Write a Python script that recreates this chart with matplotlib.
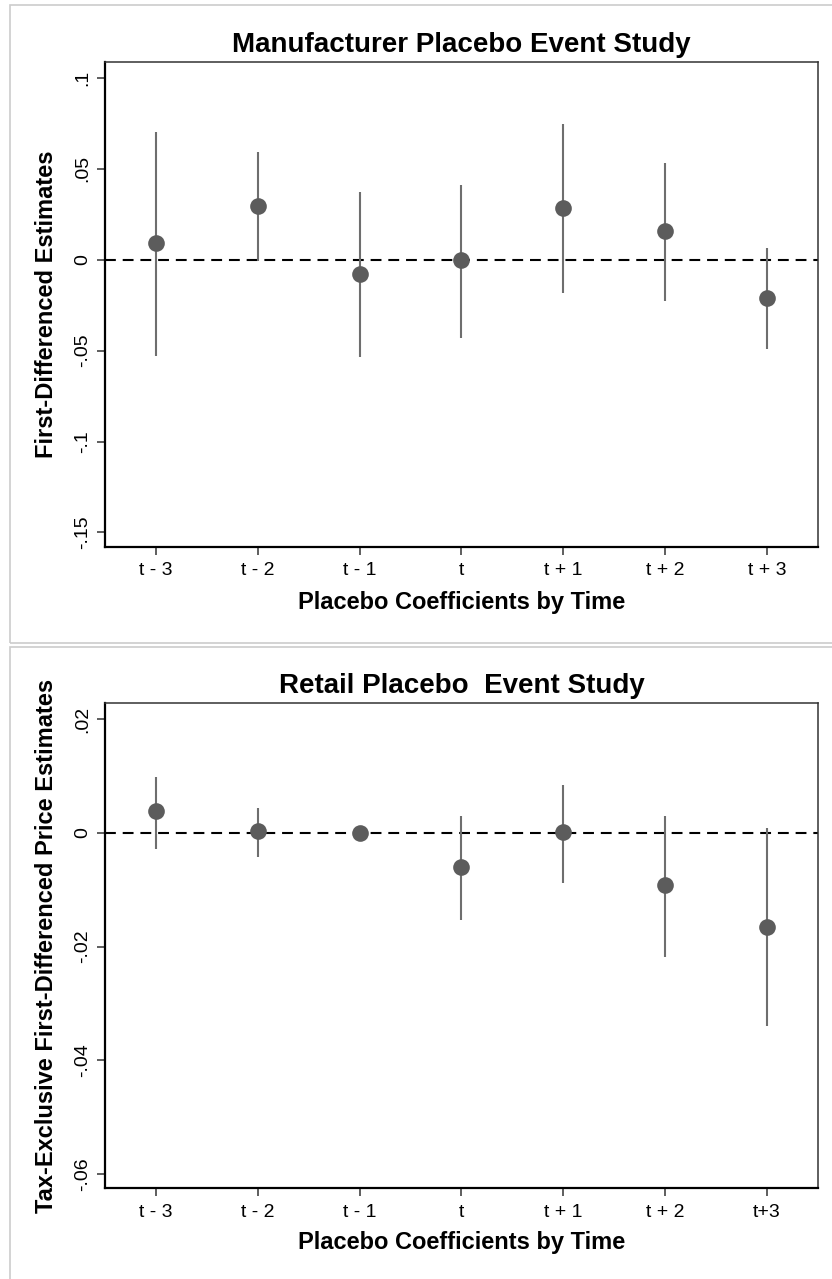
import matplotlib
matplotlib.use("Agg")
import matplotlib.pyplot as plt
from matplotlib.patches import Rectangle
from matplotlib import font_manager

# ---------------- data ----------------
periods = [1, 2, 3, 4, 5, 6, 7]
man_labels = ["t - 3", "t - 2", "t - 1", "t", "t + 1", "t + 2", "t + 3"]
ret_labels = ["t - 3", "t - 2", "t - 1", "t", "t + 1", "t + 2", "t+3"]

man_est = [0.0092, 0.0297, -0.0077, 0.0000, 0.0282, 0.0157, -0.0210]
man_lo = [-0.0527, -0.0009, -0.0534, -0.0432, -0.0185, -0.0229, -0.0489]
man_hi = [0.0705, 0.0595, 0.0370, 0.0410, 0.0745, 0.0531, 0.0062]

ret_est = [0.0039, 0.0003, 0.0000, -0.0060, 0.0001, -0.0092, -0.0165]
ret_lo = [-0.0028, -0.0043, 0.0000, -0.0153, -0.0089, -0.0219, -0.0340]
ret_hi = [0.0098, 0.0044, 0.0000, 0.0029, 0.0084, 0.0029, 0.0008]

man_yticks = [0.1, 0.05, 0, -0.05, -0.1, -0.15]
man_yticklabels = [".1", ".05", "0", "-.05", "-.1", "-.15"]
ret_yticks = [0.02, 0, -0.02, -0.04, -0.06]
ret_yticklabels = [".02", "0", "-.02", "-.04", "-.06"]

man_title = "Manufacturer Placebo Event Study"
ret_title = "Retail Placebo  Event Study"
man_ylabel = "First-Differenced Estimates"
ret_ylabel = "Tax-Exclusive First-Differenced Price Estimates"
xlabel = "Placebo Coefficients by Time"

# ---------------- fonts ----------------
available = {f.name for f in font_manager.fontManager.ttflist}
fam = [f for f in ["Liberation Sans Narrow", "Liberation Sans", "DejaVu Sans"] if f in available]
plt.rcParams["font.family"] = fam

W, H = 832, 1279
fig = plt.figure(figsize=(W / 100, H / 100), dpi=100)

def fx(px):
    return px / W

def fy(py):
    return 1 - py / H

# panel borders
fig.patches.append(Rectangle((fx(10), fy(643)), fx(900), fy(5) - fy(643),
                             transform=fig.transFigure, fill=False,
                             edgecolor="#cccccc", lw=1.2))
fig.patches.append(Rectangle((fx(10), fy(1400)), fx(900), fy(647) - fy(1400),
                             transform=fig.transFigure, fill=False,
                             edgecolor="#cccccc", lw=1.2))

MARK = "#5c5c5c"
BAR = "#6e6e6e"

def panel(top_px, bot_px, est, lo, hi, ylim, yticks, yticklabels, xticklabels,
          title, ylabel, title_y, xlabel_y):
    ax = fig.add_axes([fx(105), fy(bot_px), fx(818) - fx(105), fy(top_px) - fy(bot_px)])
    ax.axhline(0, color="black", lw=1.5, dashes=(5.2, 3.3), zorder=1)
    ax.vlines(periods, lo, hi, color=BAR, lw=1.5, zorder=2)
    ax.plot(periods, est, "o", color=MARK, markersize=12, markeredgewidth=0, zorder=3)
    ax.set_xlim(0.5, 7.5)
    ax.set_ylim(*ylim)
    ax.set_xticks(periods)
    ax.set_xticklabels(xticklabels, fontsize=14)
    ax.set_yticks(yticks)
    ax.set_yticklabels(yticklabels, fontsize=14, rotation=90, va="center")
    ax.tick_params(axis="both", direction="out", length=6, width=1.1, color="#333333", pad=5)
    ax.tick_params(axis="y", pad=4)
    for s in ["left", "bottom"]:
        ax.spines[s].set_linewidth(1.6)
        ax.spines[s].set_color("black")
    for s in ["top", "right"]:
        ax.spines[s].set_linewidth(1.1)
        ax.spines[s].set_color("#333333")
    fig.text(fx(461.5), fy(title_y), title, ha="center", va="center",
             fontsize=20, fontweight="bold")
    fig.text(fx(461.5), fy(xlabel_y), xlabel, ha="center", va="center",
             fontsize=17, fontweight="bold")
    fig.text(fx(47), fy((top_px + bot_px) / 2), ylabel, ha="center", va="center",
             rotation=90, fontsize=17, fontweight="bold")
    return ax

panel(62.3, 546.5, man_est, man_lo, man_hi, (-0.1577, 0.1086),
      man_yticks, man_yticklabels, man_labels, man_title, man_ylabel, 45, 602)
panel(703.3, 1188.3, ret_est, ret_lo, ret_hi, (-0.0625, 0.02275),
      ret_yticks, ret_yticklabels, ret_labels, ret_title, ret_ylabel, 686, 1243)

fig.savefig("out.png", dpi=100, facecolor="white")
